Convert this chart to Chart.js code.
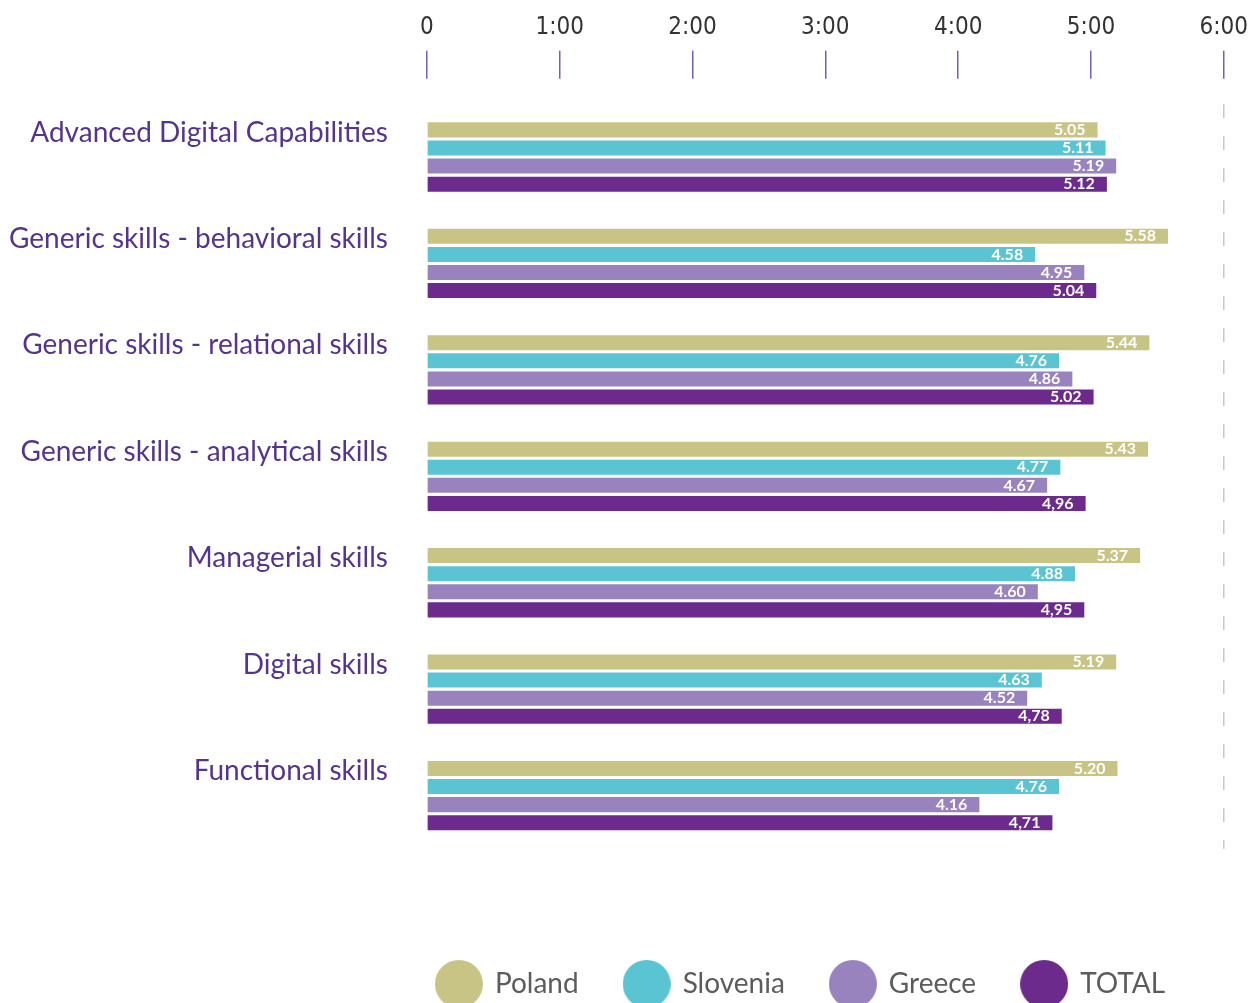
<!DOCTYPE html>
<html>
<head>
<meta charset="utf-8">
<script src="https://cdn.jsdelivr.net/npm/chart.js@4"></script>
<style>
  html, body { margin: 0; padding: 0; background: #fff; }
  #wrap { width: 1257px; height: 1003px; position: relative; }
</style>
</head>
<body>
<div id="wrap"><canvas id="chart"></canvas></div>
<script>
// Skill areas, top to bottom.
const CATEGORIES = [
  "Advanced Digital Capabilities",
  "Generic skills - behavioral skills",
  "Generic skills - relational skills",
  "Generic skills - analytical skills",
  "Managerial skills",
  "Digital skills",
  "Functional skills",
];

const POLAND   = [5.05, 5.58, 5.44, 5.43, 5.37, 5.19, 5.20];
const SLOVENIA = [5.11, 4.58, 4.76, 4.77, 4.88, 4.63, 4.76];
const GREECE   = [5.19, 4.95, 4.86, 4.67, 4.60, 4.52, 4.16];
const TOTAL    = [5.12, 5.04, 5.02, 4.96, 4.95, 4.78, 4.71];
// the source prints some TOTAL values with a decimal comma
const TOTAL_TEXT = ["5.12", "5.04", "5.02", "4,96", "4,95", "4,78", "4,71"];

const TICK_LABELS = ["0", "1:00", "2:00", "3:00", "4:00", "5:00", "6:00"];

const SERIES = [
  { label: "Poland",   data: POLAND,   color: "#c8c486" },
  { label: "Slovenia", data: SLOVENIA, color: "#5bc4d3" },
  { label: "Greece",   data: GREECE,   color: "#9883be" },
  { label: "TOTAL",    data: TOTAL,    color: "#6b2a8c" },
];

const LABEL_PURPLE = "#55348f";
const TICK_PURPLE = "#7a5db2";

// Big round legend markers: a canvas image per series.
function dot(color, d) {
  const c = document.createElement("canvas");
  c.width = d; c.height = d;
  const g = c.getContext("2d");
  g.fillStyle = color;
  g.beginPath(); g.arc(d / 2, d / 2, d / 2, 0, Math.PI * 2); g.fill();
  return c;
}

// White value text at the end of each bar.
const valueLabels = {
  id: "valueLabels",
  afterDatasetsDraw(chart) {
    const ctx = chart.ctx;
    ctx.save();
    ctx.fillStyle = "#ffffff";
    ctx.font = "bold 16px Lato, 'DejaVu Sans', sans-serif";
    ctx.textAlign = "right";
    ctx.textBaseline = "middle";
    chart.data.datasets.forEach((ds, di) => {
      chart.getDatasetMeta(di).data.forEach((bar, i) => {
        const txt = di === 3 ? TOTAL_TEXT[i] : ds.data[i].toFixed(2);
        ctx.fillText(txt, bar.x - 12, bar.y);
      });
    });
    ctx.restore();
  }
};

// Start the legend row just under the bars instead of at the canvas edge.
const legendShift = {
  id: "legendShift",
  afterLayout(chart) {
    chart.legend.left = chart.chartArea.left - 36;
  }
};

new Chart(document.getElementById("chart"), {
  type: "bar",
  data: {
    labels: CATEGORIES.map(c => [c, ""]),
    datasets: SERIES.map(s => ({
      label: s.label,
      data: s.data,
      backgroundColor: s.color,
      borderWidth: 0,
      barPercentage: 0.83,
      categoryPercentage: 0.68,
    }))
  },
  plugins: [valueLabels, legendShift],
  options: {
    indexAxis: "y",
    responsive: true, maintainAspectRatio: false,
    animation: false,
    layout: { padding: { top: 4, left: -30, right: -6, bottom: -5 } },
    plugins: {
      tooltip: { enabled: false },
      legend: {
        position: "bottom",
        align: "start",
        title: { display: true, text: "", padding: { top: 74, bottom: 0 }, font: { size: 1 } },
        labels: {
          usePointStyle: true,
          pointStyleWidth: 44,
          padding: 46,
          color: "#5c5c5c",
          font: { family: "Lato, 'DejaVu Sans', sans-serif", size: 28 },
          generateLabels(chart) {
            const items = Chart.defaults.plugins.legend.labels.generateLabels(chart);
            items.forEach((it, i) => { it.pointStyle = dot(SERIES[i].color, 48); });
            return items;
          }
        }
      }
    },
    scales: {
      x: {
        position: "top",
        min: 0, max: 6,
        ticks: {
          stepSize: 1,
          callback: v => TICK_LABELS[v],
          color: "#333333",
          padding: 9,
          font: { family: "'Liberation Sans Narrow', 'DejaVu Sans Condensed', sans-serif", size: 24 }
        },
        grid: {
          drawOnChartArea: true,
          color: c => c.tick && c.tick.value === 6 ? "#c8c8c8" : "rgba(0,0,0,0)",
          lineWidth: 1.5,
          borderDash: [14, 18],
          tickColor: TICK_PURPLE,
          tickWidth: 1.5,
          tickLength: 53,
          tickBorderDash: [28, 100]
        },
        border: { display: false, dash: [14, 18] }
      },
      y: {
        ticks: {
          autoSkip: false,
          color: LABEL_PURPLE,
          padding: 39,
          font: { family: "Lato, 'DejaVu Sans', sans-serif", size: 28, lineHeight: 1.75 }
        },
        grid: { display: false, drawTicks: false },
        border: { display: false }
      }
    }
  }
});
</script>
</body>
</html>
